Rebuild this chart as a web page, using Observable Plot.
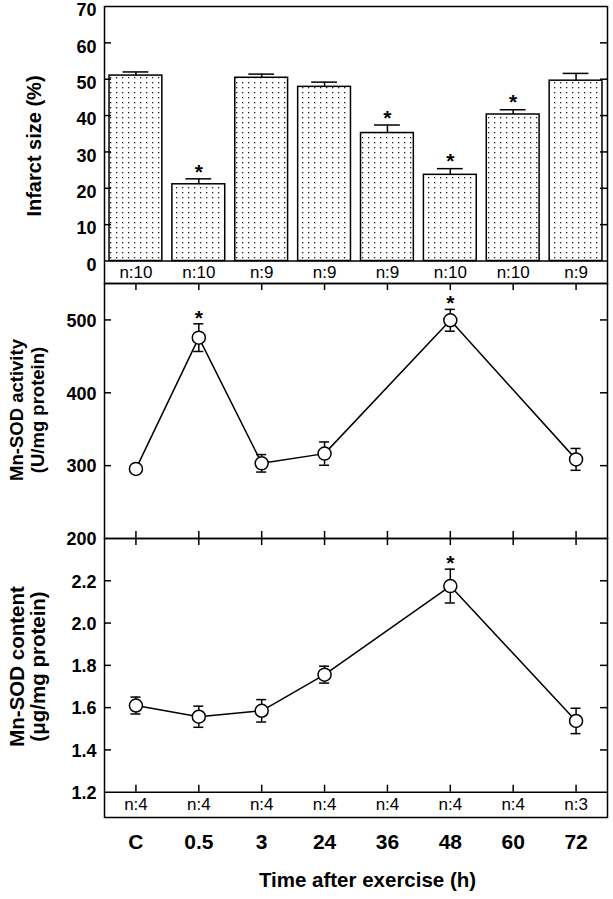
<!DOCTYPE html>
<html>
<head>
<meta charset="utf-8">
<script src="https://cdn.jsdelivr.net/npm/d3@7"></script>
<script src="https://cdn.jsdelivr.net/npm/@observablehq/plot@0.6"></script>
<style>
  body { margin: 0; background: #fff; }
  #chart { position: relative; width: 613px; height: 899px; font-family: "Liberation Sans", Arial, Helvetica, sans-serif; }
  #chart svg { position: absolute; left: 0; }
</style>
</head>
<body>
<div id="chart"></div>
<script>
// ---------- data ----------
const times = ["C", "0.5", "3", "24", "36", "48", "60", "72"];

const infarctMean = [51.0, 21.1, 50.4, 47.9, 35.2, 23.7, 40.3, 49.6];
const infarctSem  = [1.0, 1.5, 1.0, 1.3, 2.2, 1.7, 1.3, 2.0];
const infarctSig  = [false, true, false, false, true, true, true, false];
const infarctN    = [10, 10, 9, 9, 9, 10, 10, 9];

const activityMean = [295.5, 475.7, 303.2, 316.5, null, 499.5, null, 308.6];
const activitySem  = [4, 19, 12, 16, null, 15, null, 15];
const activitySig  = [false, true, false, false, false, true, false, false];

const contentMean = [1.61, 1.557, 1.585, 1.756, null, 2.175, null, 1.537];
const contentSem  = [0.04, 0.05, 0.053, 0.04, null, 0.08, null, 0.06];
const contentSig  = [false, false, false, false, false, true, false, false];
const contentN    = [4, 4, 4, 4, 4, 4, 4, 3];

const infarctTicks  = [0, 10, 20, 30, 40, 50, 60, 70];
const activityTicks = [200, 300, 400, 500];
const contentTicks  = [1.2, 1.4, 1.6, 1.8, 2.0, 2.2];

// ---------- layout ----------
const W = 613, ML = 104, MR = 6;
const plotW = W - ML - MR;
const FONT = '"Liberation Sans", Arial, Helvetica, sans-serif';
const SW = 1.5;
const TICK = 7;

const xOpts = {type: "band", domain: times, paddingInner: 0.16, paddingOuter: 0.08, round: false, axis: null};
const baseStyle = {background: "none", overflow: "visible", fontFamily: FONT, color: "black"};

const rows1 = times.map((t, i) => ({t, mean: infarctMean[i], sem: infarctSem[i], sig: infarctSig[i], n: infarctN[i]}));
const rows2 = times.map((t, i) => ({t, mean: activityMean[i], sem: activitySem[i], sig: activitySig[i]})).filter(d => d.mean != null);
const rows3 = times.map((t, i) => ({t, mean: contentMean[i], sem: contentSem[i], sig: contentSig[i], n: contentN[i]}));
const pts3 = rows3.filter(d => d.mean != null);

function yTicksInward(ticks) {
  return [
    Plot.tickY(ticks, {y: d => d, insetRight: plotW - TICK, strokeWidth: SW}),
    Plot.tickY(ticks, {y: d => d, insetLeft: plotW - TICK, strokeWidth: SW})
  ];
}
function yLabels(ticks, fmt, dy) {
  return Plot.text(ticks, {y: d => d, text: fmt, frameAnchor: "left", textAnchor: "end", dx: -8, dy,
    fontSize: 18, fontWeight: "bold"});
}
function yTitle(text, opts) {
  return Plot.text([text], {frameAnchor: "left", textAnchor: "middle", rotate: -90, fontWeight: "bold", ...opts});
}

const chart = document.getElementById("chart");

// ---------- panel 1: infarct size ----------
{
  const H = 283, top = 0, mt = 6;
  const zeroPx = 260.5;                // pixel of y = 0
  const ppu = (zeroPx - mt) / 70;      // px per unit
  const yLow = -(H - zeroPx) / ppu;
  const svg = Plot.plot({
    width: W, height: H, marginLeft: ML, marginRight: MR, marginTop: mt, marginBottom: 0,
    style: baseStyle,
    x: xOpts,
    y: {domain: [yLow, 70], axis: null},
    marks: [
      Plot.barY(rows1, {x: "t", y1: 0, y2: "mean", fill: "url(#dots)", stroke: "black", strokeWidth: SW}),
      Plot.ruleX(rows1, {x: "t", y1: "mean", y2: d => d.mean + d.sem, strokeWidth: SW}),
      Plot.tickY(rows1, {x: "t", y: d => d.mean + d.sem, inset: 13.5, strokeWidth: SW}),
      Plot.text(rows1.filter(d => d.sig), {x: "t", y: d => d.mean + d.sem, text: () => "*", dy: -7,
        fontSize: 21, fontWeight: "bold"}),
      Plot.ruleY([0], {strokeWidth: SW}),
      ...yTicksInward(infarctTicks.filter(d => d > 0 && d < 70)),
      yLabels(infarctTicks, d => String(d), 4),
      Plot.text(rows1, {x: "t", y: yLow / 2, text: d => "n:" + d.n, fontSize: 17}),
      yTitle("Infarct size (%)", {dx: -70, dy: 1, fontSize: 20}),
      Plot.frame({strokeWidth: SW})
    ]
  });
  const ns = "http://www.w3.org/2000/svg";
  const defs = document.createElementNS(ns, "defs");
  defs.innerHTML = '<pattern id="dots" patternUnits="userSpaceOnUse" width="6" height="5">' +
    '<rect width="6" height="5" fill="white"/><rect x="2" y="2" width="1.3" height="1.3" fill="#222"/></pattern>';
  svg.insertBefore(defs, svg.firstChild);
  svg.style.top = top + "px";
  chart.appendChild(svg);
}

// ---------- panel 2: Mn-SOD activity ----------
{
  const H = 255, top = 283;
  const svg = Plot.plot({
    width: W, height: H, marginLeft: ML, marginRight: MR, marginTop: 0, marginBottom: 0,
    style: baseStyle,
    x: xOpts,
    y: {domain: [200, 550], axis: null},
    marks: [
      Plot.tickX(times, {x: d => d, insetBottom: H - TICK, strokeWidth: SW}),
      Plot.tickX(times, {x: d => d, insetTop: H - TICK, strokeWidth: SW}),
      ...yTicksInward(activityTicks.filter(d => d > 200)),
      yLabels(activityTicks, d => String(d), 1),
      Plot.line(rows2, {x: "t", y: "mean", strokeWidth: SW}),
      Plot.ruleX(rows2, {x: "t", y1: d => d.mean - d.sem, y2: d => d.mean + d.sem, strokeWidth: SW}),
      Plot.tickY(rows2, {x: "t", y: d => d.mean + d.sem, inset: 21.4, strokeWidth: SW}),
      Plot.tickY(rows2, {x: "t", y: d => d.mean - d.sem, inset: 21.4, strokeWidth: SW}),
      Plot.dot(rows2, {x: "t", y: "mean", r: 6.5, fill: "white", stroke: "black", strokeWidth: SW}),
      Plot.text(rows2.filter(d => d.sig), {x: "t", y: d => d.mean + d.sem, text: () => "*", dy: -6,
        fontSize: 21, fontWeight: "bold"}),
      yTitle("Mn-SOD activity\n(U/mg protein)", {dx: -78, dy: -1, fontSize: 18.5, lineHeight: 1.16}),
      Plot.frame({strokeWidth: SW})
    ]
  });
  svg.style.top = top + "px";
  chart.appendChild(svg);
}

// ---------- panel 3: Mn-SOD content ----------
{
  const plotH = 279, top = 538, mb = 82;
  const H = plotH + mb;
  const basePx = 253.7;                 // pixel (from panel top) of y = 1.2
  const ppu = basePx / 1.2;             // px per unit
  const yLow = 1.2 - (plotH - basePx) / ppu;
  const svg = Plot.plot({
    width: W, height: H, marginLeft: ML, marginRight: MR, marginTop: 0, marginBottom: mb,
    style: baseStyle,
    x: xOpts,
    y: {domain: [yLow, 2.4], axis: null},
    marks: [
      Plot.tickX(times, {x: d => d, insetBottom: plotH - TICK, strokeWidth: SW}),
      Plot.ruleX(times, {x: d => d, y1: 1.2, y2: 1.2 + TICK / ppu, strokeWidth: SW}),
      Plot.ruleY([1.2], {strokeWidth: SW}),
      ...yTicksInward(contentTicks.filter(d => d > 1.2)),
      yLabels(contentTicks, d => d.toFixed(1), 1),
      Plot.line(pts3, {x: "t", y: "mean", strokeWidth: SW}),
      Plot.ruleX(pts3, {x: "t", y1: d => d.mean - d.sem, y2: d => d.mean + d.sem, strokeWidth: SW}),
      Plot.tickY(pts3, {x: "t", y: d => d.mean + d.sem, inset: 21.4, strokeWidth: SW}),
      Plot.tickY(pts3, {x: "t", y: d => d.mean - d.sem, inset: 21.4, strokeWidth: SW}),
      Plot.dot(pts3, {x: "t", y: "mean", r: 6.5, fill: "white", stroke: "black", strokeWidth: SW}),
      Plot.text(pts3.filter(d => d.sig), {x: "t", y: d => d.mean + d.sem, text: () => "*", dy: -6,
        fontSize: 21, fontWeight: "bold"}),
      Plot.text(rows3, {x: "t", y: (yLow + 1.2) / 2, text: d => "n:" + d.n, fontSize: 17}),
      Plot.text(times, {x: d => d, frameAnchor: "bottom", dy: 31, fontSize: 21, fontWeight: "bold"}),
      Plot.text(["Time after exercise (h)"], {frameAnchor: "bottom", dy: 69, dx: 11.5, fontSize: 20.5, fontWeight: "bold"}),
      yTitle("Mn-SOD content\n(μg/mg protein)", {dx: -77, dy: -11.5, fontSize: 20.5, lineHeight: 1.05}),
      Plot.frame({strokeWidth: SW})
    ]
  });
  svg.style.top = top + "px";
  chart.appendChild(svg);
}
</script>
</body>
</html>
